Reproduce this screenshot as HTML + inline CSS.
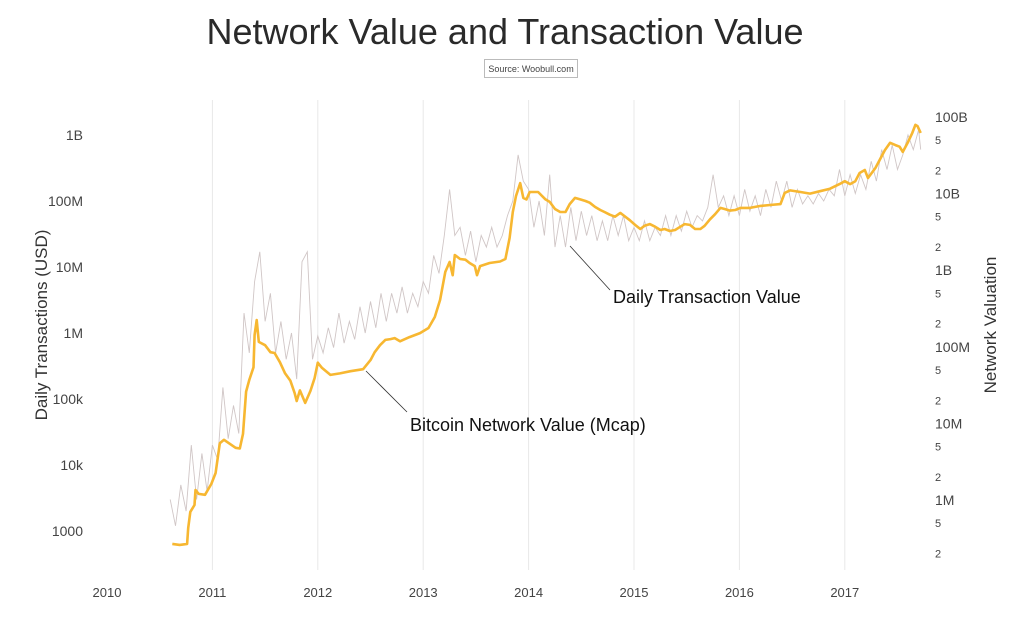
<!DOCTYPE html>
<html><head><meta charset="utf-8">
<style>
html,body{margin:0;padding:0;background:#fff;}
svg{display:block;font-family:"Liberation Sans",sans-serif;}
</style></head>
<body>
<svg id="chart" width="1024" height="626" viewBox="0 0 1024 626">
<text x="505" y="44" text-anchor="middle" font-size="36" fill="#2a2a2a">Network Value and Transaction Value</text>
<g>
<rect x="484.5" y="59.5" width="93" height="18" fill="#fff" stroke="#bbb"/>
<text x="531" y="72" text-anchor="middle" font-size="9" fill="#444">Source: Woobull.com</text>
</g>
<g id="grid"></g>
<g id="axes"></g>
<g id="series"></g>
<text transform="translate(47,325) rotate(-90)" text-anchor="middle" font-size="17" fill="#333">Daily Transactions (USD)</text>
<text transform="translate(996,325) rotate(-90)" text-anchor="middle" font-size="17" fill="#333">Network Valuation</text>
<g>
<line x1="570" y1="246" x2="610" y2="290" stroke="#333" stroke-width="0.8"/>
<text x="613" y="303" font-size="18" fill="#111">Daily Transaction Value</text>
</g>
<g>
<line x1="366" y1="371" x2="407" y2="412" stroke="#333" stroke-width="0.8"/>
<text x="410" y="431" font-size="18" fill="#111">Bitcoin Network Value (Mcap)</text>
</g>
</svg>
<script>
const xTicks = [2010,2011,2012,2013,2014,2015,2016,2017];
const leftTickValues = [1e3,1e4,1e5,1e6,1e7,1e8,1e9];
const leftTickLabels = ["1000","10k","100k","1M","10M","100M","1B"];
const rightTickValues = [1e6,1e7,1e8,1e9,1e10,1e11];
const rightTickLabels = ["1M","10M","100M","1B","10B","100B"];
const rightMinor = [2,5];

const mcapDates = [
2010.62,2010.69,2010.76,2010.77,2010.79,2010.83,2010.84,2010.87,2010.93,2010.99,
2011.03,2011.07,2011.11,2011.22,2011.26,2011.29,2011.32,2011.35,2011.39,2011.40,
2011.42,2011.44,2011.50,2011.55,2011.59,2011.64,2011.69,2011.74,2011.78,2011.80,
2011.83,2011.88,2011.93,2011.97,2012.00,2012.04,2012.12,2012.21,2012.31,2012.43,
2012.50,2012.54,2012.59,2012.64,2012.69,2012.73,2012.78,2012.87,2012.97,2013.05,
2013.11,2013.16,2013.21,2013.25,2013.28,2013.30,2013.35,2013.40,2013.44,2013.49,
2013.51,2013.54,2013.63,2013.73,2013.78,2013.82,2013.85,2013.88,2013.92,2013.95,
2013.98,2014.01,2014.09,2014.16,2014.20,2014.25,2014.30,2014.35,2014.39,2014.44,
2014.49,2014.54,2014.58,2014.63,2014.68,2014.72,2014.77,2014.82,2014.87,2014.96,
2015.01,2015.06,2015.10,2015.15,2015.20,2015.25,2015.29,2015.34,2015.39,2015.44,
2015.48,2015.53,2015.58,2015.63,2015.67,2015.72,2015.77,2015.82,2015.86,2015.91,
2015.96,2016.01,2016.10,2016.20,2016.29,2016.39,2016.43,2016.48,2016.58,2016.67,
2016.76,2016.86,2016.95,2017.00,2017.05,2017.10,2017.14,2017.19,2017.22,2017.29,
2017.38,2017.43,2017.48,2017.52,2017.55,2017.60,2017.64,2017.67,2017.69,2017.72];
const mcapValues = [
2.67e5,2.59e5,2.67e5,4.3e5,7.0e5,8.6e5,1.35e6,1.2e6,1.17e6,1.62e6,
2.25e6,5.5e6,6.1e6,4.8e6,4.7e6,7.3e6,2.6e7,3.7e7,5.4e7,1.43e8,
2.24e8,1.16e8,1.05e8,8.5e7,8.3e7,6.3e7,4.5e7,3.6e7,2.5e7,1.96e7,
2.7e7,1.85e7,2.65e7,3.9e7,6.2e7,5.3e7,4.3e7,4.5e7,4.8e7,5.1e7,
6.7e7,8.5e7,1.05e8,1.23e8,1.26e8,1.30e8,1.18e8,1.34e8,1.51e8,1.76e8,
2.45e8,4.1e8,9.5e8,1.28e9,8.6e8,1.58e9,1.4e9,1.37e9,1.24e9,1.13e9,
8.6e8,1.13e9,1.24e9,1.30e9,1.40e9,2.63e9,5.75e9,9.3e9,1.37e10,8.8e9,
8.4e9,1.05e10,1.05e10,8.4e9,7.8e9,6.3e9,5.75e9,5.75e9,7.3e9,8.8e9,
8.4e9,8.0e9,7.6e9,6.7e9,6.1e9,5.75e9,5.3e9,5.0e9,5.6e9,4.5e9,
3.9e9,3.45e9,3.8e9,4.0e9,3.7e9,3.35e9,3.45e9,3.25e9,3.35e9,3.7e9,
4.0e9,3.9e9,3.45e9,3.45e9,3.8e9,4.6e9,5.4e9,6.5e9,6.3e9,6.0e9,
6.1e9,6.5e9,6.5e9,6.9e9,7.1e9,7.3e9,1.02e10,1.1e10,1.05e10,1.0e10,
1.07e10,1.16e10,1.33e10,1.45e10,1.33e10,1.45e10,1.86e10,2.03e10,1.6e10,2.16e10,
3.7e10,4.6e10,4.3e10,4.1e10,3.5e10,4.7e10,6.2e10,7.9e10,7.6e10,6.2e10];

const txDates = [2010.60,2010.65,2010.70,2010.75,2010.80,2010.85,2010.90,2010.95,2011.00,2011.05,2011.10,2011.15,2011.20,2011.25,2011.30,2011.35,2011.40,2011.45,2011.50,2011.55,2011.60,2011.65,2011.70,2011.75,2011.80,2011.85,2011.90,2011.95,2012.00,2012.05,2012.10,2012.15,2012.20,2012.25,2012.30,2012.35,2012.40,2012.45,2012.50,2012.55,2012.60,2012.65,2012.70,2012.75,2012.80,2012.85,2012.90,2012.95,2013.00,2013.05,2013.10,2013.15,2013.20,2013.25,2013.30,2013.35,2013.40,2013.45,2013.50,2013.55,2013.60,2013.65,2013.70,2013.75,2013.80,2013.85,2013.90,2013.95,2014.00,2014.05,2014.10,2014.15,2014.20,2014.25,2014.30,2014.35,2014.40,2014.45,2014.50,2014.55,2014.60,2014.65,2014.70,2014.75,2014.80,2014.85,2014.90,2014.95,2015.00,2015.05,2015.10,2015.15,2015.20,2015.25,2015.30,2015.35,2015.40,2015.45,2015.50,2015.55,2015.60,2015.65,2015.70,2015.75,2015.80,2015.85,2015.90,2015.95,2016.00,2016.05,2016.10,2016.15,2016.20,2016.25,2016.30,2016.35,2016.40,2016.45,2016.50,2016.55,2016.60,2016.65,2016.70,2016.75,2016.80,2016.85,2016.90,2016.95,2017.00,2017.05,2017.10,2017.15,2017.20,2017.25,2017.30,2017.35,2017.40,2017.45,2017.50,2017.55,2017.60,2017.65,2017.70,2017.72];
const txValues = [3e3,1.2e3,5e3,2e3,2e4,3e3,1.5e4,4e3,2e4,1.2e4,1.5e5,2.5e4,8e4,3e4,2e6,5e5,6e6,1.7e7,1.5e6,4e6,5e5,1.5e6,4e5,1e6,2e5,1.2e7,1.7e7,4e5,9e5,5e5,1.2e6,6e5,2e6,7e5,1.5e6,8e5,2.5e6,1e6,3e6,1.2e6,4e6,1.5e6,4e6,2e6,5e6,2e6,4e6,2.5e6,6e6,4e6,1.5e7,8e6,3e7,1.5e8,3e7,4e7,1.5e7,3.5e7,1.2e7,3e7,2e7,4e7,2e7,3e7,6e7,1e8,5e8,2e8,1.5e8,4e7,1e8,3e7,2.5e8,2e7,6e7,2e7,8e7,2.5e7,7e7,3e7,6e7,2.5e7,5e7,2.5e7,6e7,3e7,6e7,2.5e7,4e7,2.5e7,5e7,2.5e7,4e7,3e7,6e7,3e7,6e7,3.5e7,7e7,4e7,6e7,5e7,8e7,2.5e8,8e7,1.2e8,6e7,1.2e8,6e7,1.5e8,7e7,1.2e8,6e7,1.5e8,8e7,2e8,1e8,2e8,8e7,1.5e8,9e7,1.2e8,9e7,1.3e8,1e8,1.5e8,1.2e8,3e8,1.2e8,2.5e8,1.3e8,2.5e8,1.5e8,4e8,2e8,6e8,3e8,7e8,3e8,5e8,1e9,6e8,1.2e9,6e8];

const NS="http://www.w3.org/2000/svg";
function xScale(yr){return 107 + (yr-2010)*105.4;}
function yLeft(v){return 135 + (9-Math.log10(v))*66;}
function yRight(v){return 117 + (11-Math.log10(v))*76.6;}
function mk(tag,attrs,parent){const e=document.createElementNS(NS,tag);for(const k in attrs)e.setAttribute(k,attrs[k]);parent.appendChild(e);return e;}

const grid=document.getElementById('grid'), axes=document.getElementById('axes'), series=document.getElementById('series');
xTicks.forEach(function(t){
  const x=xScale(t);
  if(t>2010){
    const g=mk('line',{x1:x,x2:x,y1:100,y2:570,stroke:'#e8e8e8','stroke-width':1},grid);
    
    
  }
  const lb=mk('text',{x:x,y:597,'text-anchor':'middle','font-size':13,fill:'#444'},axes);
  lb.textContent=t;
  
  
});
leftTickValues.forEach(function(v,i){
  const lb=mk('text',{x:83,y:yLeft(v)+5,'text-anchor':'end','font-size':14,fill:'#444'},axes);
  lb.textContent=leftTickLabels[i];
  
  
});
rightTickValues.forEach(function(v,i){
  const lb=mk('text',{x:935,y:yRight(v)+5,'font-size':14,fill:'#444'},axes);
  lb.textContent=rightTickLabels[i];
  
  
  if(i>0){
    rightMinor.forEach(function(m){
      const mv=rightTickValues[i-1]*m;
      const ml=mk('text',{x:935,y:yRight(mv)+4,'font-size':11,fill:'#444'},axes);
      ml.textContent=m;
      
      
    });
  }
});
rightMinor.forEach(function(m){
  const y=yRight(1e5*m);
  if(y<560){
    const ml=mk('text',{x:935,y:y+4,'font-size':11,fill:'#444'},axes);
    ml.textContent=m;
    
    
  }
});

let dTx='';
txDates.forEach(function(d,i){dTx+=(i?'L':'M')+xScale(d).toFixed(1)+','+yLeft(txValues[i]).toFixed(1);});
const tx=mk('path',{d:dTx,fill:'none',stroke:'#d0c6c6','stroke-width':0.9},series);



let dM='';
mcapDates.forEach(function(d,i){dM+=(i?'L':'M')+xScale(d).toFixed(1)+','+yRight(mcapValues[i]).toFixed(1);});
const mc=mk('path',{d:dM,fill:'none',stroke:'#f7b731','stroke-width':2.6,'stroke-linejoin':'round'},series);


</script>
</body></html>
